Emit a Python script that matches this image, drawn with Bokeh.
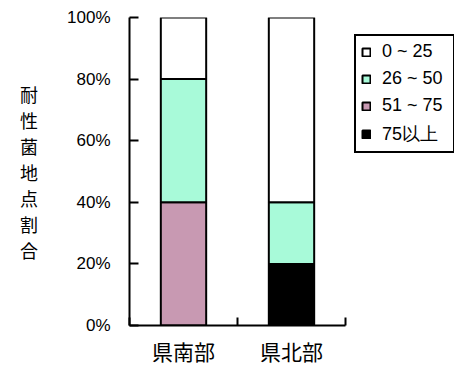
from bokeh.plotting import figure
from bokeh.models import (ColumnDataSource, Range1d, FixedTicker,
                          NumeralTickFormatter, LinearAxis,
                          Legend, LegendItem)
from bokeh.embed import file_html
from bokeh.resources import INLINE

# Share of sites in each resistance band, per region
regions = ["県南部", "県北部"]
bands = ["0 ~ 25", "26 ~ 50", "51 ~ 75", "75以上"]
band_0_25 = [0.20, 0.60]
band_26_50 = [0.40, 0.20]
band_51_75 = [0.40, 0.00]
band_75_up = [0.00, 0.20]
band_colors = ["#FFFFFF", "#A8FAD9", "#C899B2", "#000000"]
y_ticks = [0.0, 0.2, 0.4, 0.6, 0.8, 1.0]
y_title = "耐性菌地点割合"

LATIN = "Liberation Sans"
CJK = "Noto Sans CJK JP"

# each region occupies one unit slot; bars sit in the middle of their slot
n = len(regions)
slot_mid = [i + 0.5 for i in range(n)]
slot_edges = list(range(n + 1))

source = ColumnDataSource(dict(
    x=slot_mid,
    b0=band_0_25, b1=band_26_50, b2=band_51_75, b3=band_75_up,
))

p = figure(
    width=454, height=370,
    frame_width=216, frame_height=308,
    x_range=Range1d(0, n), y_range=Range1d(0, 1),
    x_axis_location=None,
    output_backend="svg", toolbar_location=None,
    min_border_left=129, min_border_right=109,
    min_border_top=17, min_border_bottom=45,
)
p.outline_line_color = None
p.xgrid.visible = False
p.ygrid.visible = False
p.background_fill_color = "white"
p.border_fill_color = "white"

# stack bottom to top: 75以上, 51~75, 26~50, 0~25
stack_keys = ["b3", "b2", "b1", "b0"]
stack_colors = [band_colors[3], band_colors[2], band_colors[1], band_colors[0]]
renderers = p.vbar_stack(stack_keys, x="x", width=0.42, source=source,
                         fill_color=stack_colors, line_color="black",
                         line_width=2)

# y axis: percentages, ticks pointing inward, title stacked vertically
yax = p.yaxis[0]
yax.ticker = FixedTicker(ticks=y_ticks)
yax.formatter = NumeralTickFormatter(format="0%")
yax.axis_line_width = 2
yax.major_tick_line_width = 2
yax.major_tick_in = 9
yax.major_tick_out = 0
yax.minor_tick_line_color = None
yax.major_label_standoff = 19
yax.major_label_text_font = LATIN
yax.major_label_text_font_size = "17px"
yax.major_label_text_color = "black"
yax.axis_label = "\n".join(y_title)
yax.axis_label_orientation = "horizontal"
yax.axis_label_text_font = CJK
yax.axis_label_text_font_size = "18px"
yax.axis_label_text_font_style = "normal"
yax.axis_label_text_color = "black"
yax.axis_label_text_line_height = 1.0
yax.axis_label_standoff = 26

# x axis: region names at slot middles, tick marks at slot boundaries
xax = LinearAxis(ticker=FixedTicker(ticks=slot_mid, minor_ticks=slot_edges),
                 major_label_overrides={m: r for m, r in zip(slot_mid, regions)})
xax.axis_line_width = 2
xax.major_tick_line_color = None
xax.major_tick_in = 0
xax.major_tick_out = 0
xax.minor_tick_line_width = 2
xax.minor_tick_in = 8
xax.minor_tick_out = 0
xax.major_label_standoff = 10
xax.major_label_text_font = CJK
xax.major_label_text_font_size = "21px"
xax.major_label_text_color = "black"
p.add_layout(xax, "below")

# legend, top band first, in the right-hand panel
rmap = dict(zip(stack_keys, renderers))
items = [LegendItem(label=lab, renderers=[rmap[k]])
         for lab, k in zip(bands, ["b0", "b1", "b2", "b3"])]
legend = Legend(items=items, location=(9, 172))
legend.border_line_color = "black"
legend.border_line_alpha = 1
legend.border_line_width = 2
legend.background_fill_color = "white"
legend.background_fill_alpha = 1
legend.label_text_font = LATIN
legend.label_text_font_size = "18px"
legend.label_text_color = "black"
legend.glyph_width = 10
legend.glyph_height = 10
legend.label_standoff = 11
legend.label_width = 66
legend.spacing = 6
legend.padding = 5
legend.margin = 0
p.add_layout(legend, "right")

open("out.html", "w").write(file_html(p, INLINE))
